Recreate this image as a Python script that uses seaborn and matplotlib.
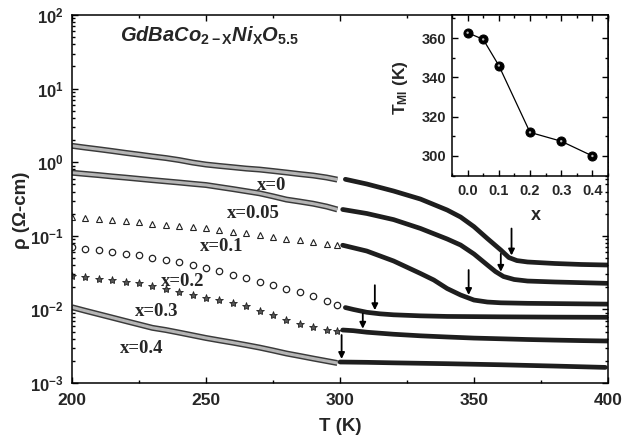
import numpy as np
import pandas as pd
import matplotlib
matplotlib.use("Agg")
import matplotlib.pyplot as plt
import seaborn as sns
from matplotlib.ticker import FixedLocator, MultipleLocator, LogLocator, NullFormatter, FixedFormatter

# ---------------- data ----------------
T_low = [200, 205, 210, 215, 220, 225, 230, 235, 240, 245, 250,
         255, 260, 265, 270, 275, 280, 285, 290, 295, 299]

rho_low_00 = [1.67, 1.58, 1.50, 1.42, 1.34, 1.27, 1.20, 1.14, 1.07, 0.99, 0.93,
              0.89, 0.855, 0.82, 0.795, 0.76, 0.725, 0.69, 0.66, 0.62, 0.58]
rho_low_005 = [0.72, 0.693, 0.668, 0.641, 0.618, 0.594, 0.571, 0.550, 0.530, 0.509, 0.490,
               0.460, 0.432, 0.404, 0.378, 0.344, 0.311, 0.292, 0.273, 0.250, 0.228]
rho_low_01 = [0.182, 0.176, 0.169, 0.163, 0.158, 0.152, 0.147, 0.142, 0.137, 0.132, 0.128,
              0.121, 0.114, 0.108, 0.1025, 0.0972, 0.0919, 0.0871, 0.0824, 0.0782, 0.0750]
rho_low_02 = [0.0698, 0.0666, 0.0635, 0.0604, 0.0575, 0.0543, 0.0507, 0.0469, 0.0434, 0.0401, 0.0369,
              0.0330, 0.0293, 0.0265, 0.0239, 0.0215, 0.0192, 0.0171, 0.0150, 0.0130, 0.0115]
rho_low_03 = [0.0284, 0.0272, 0.0261, 0.0249, 0.0239, 0.0229, 0.0206, 0.0188, 0.0171, 0.0156, 0.0143,
              0.0134, 0.0124, 0.0111, 0.00966, 0.00839, 0.00718, 0.00634, 0.00568, 0.00533, 0.00516]
rho_low_04 = [0.0107, 0.00958, 0.00861, 0.00774, 0.00695, 0.00625, 0.00562, 0.00525, 0.00484, 0.00445, 0.00409,
              0.00380, 0.00354, 0.00328, 0.00303, 0.00277, 0.00252, 0.00233, 0.00215, 0.00199, 0.00187]

T_high_00 = [302, 310, 320, 330, 340, 345, 350, 355, 360, 363, 366, 370, 380, 390, 400]
rho_high_00 = [0.586, 0.506, 0.406, 0.316, 0.224, 0.180, 0.133, 0.0918, 0.0641, 0.0507,
               0.0461, 0.0441, 0.0421, 0.0408, 0.0401]
T_high_005 = [301, 310, 320, 330, 340, 345, 350, 355, 358, 361, 365, 370, 380, 390, 400]
rho_high_005 = [0.228, 0.201, 0.166, 0.126, 0.0905, 0.075, 0.0566, 0.0401, 0.0327, 0.0280,
                0.0255, 0.0243, 0.0236, 0.0231, 0.0226]
T_high_01 = [301, 310, 320, 330, 335, 340, 345, 350, 355, 360, 370, 380, 390, 400]
rho_high_01 = [0.0745, 0.0621, 0.0455, 0.0308, 0.0251, 0.0192, 0.0157, 0.0134, 0.0126,
               0.0123, 0.0121, 0.0120, 0.0119, 0.0118]
T_high_02 = [302, 305, 310, 315, 320, 330, 340, 360, 380, 400]
rho_high_02 = [0.0106, 0.00998, 0.00914, 0.00871, 0.00845, 0.00818, 0.00803, 0.00793, 0.00786, 0.00781]
T_high_03 = [301, 305, 310, 320, 330, 340, 350, 360, 370, 380, 390, 400]
rho_high_03 = [0.00525, 0.00514, 0.00490, 0.00460, 0.00438, 0.00422, 0.00408, 0.00399,
               0.00390, 0.00383, 0.00377, 0.00372]
T_high_04 = [300, 310, 320, 340, 360, 380, 399]
rho_high_04 = [0.00193, 0.00191, 0.00188, 0.00183, 0.00177, 0.00170, 0.00163]

labels = ["x=0", "x=0.05", "x=0.1", "x=0.2", "x=0.3", "x=0.4"]
label_T = [274.6, 267.5, 256.0, 241.4, 231.7, 226.1]
label_rho = [0.49, 0.204, 0.0726, 0.0243, 0.00923, 0.00299]

arrow_T = [364, 360, 348, 313, 308.5, 300.6]
arrow_len_px = [27, 18, 25, 25, 15, 24]

x_comp = [0.0, 0.05, 0.1, 0.2, 0.3, 0.4]
T_MI = [362.7, 359.3, 346.0, 312.0, 307.5, 300.0]

# ---------------- style ----------------
sns.set_style("ticks")
plt.rcParams["font.family"] = ["Liberation Sans", "DejaVu Sans"]
plt.rcParams["font.weight"] = "bold"
plt.rcParams["mathtext.fontset"] = "custom"
plt.rcParams["mathtext.rm"] = "Liberation Sans:bold"
plt.rcParams["mathtext.bf"] = "Liberation Sans:bold"
plt.rcParams["mathtext.it"] = "Liberation Sans:bold:italic"

fig = plt.figure(figsize=(6.44, 4.43), dpi=100)
ax = fig.add_axes([0.1118, 0.1354, 0.8323, 0.8307])

DARK = "#1e1e1e"

low_sets = [rho_low_00, rho_low_005, rho_low_01, rho_low_02, rho_low_03, rho_low_04]
high_sets = [(T_high_00, rho_high_00), (T_high_005, rho_high_005), (T_high_01, rho_high_01),
             (T_high_02, rho_high_02), (T_high_03, rho_high_03), (T_high_04, rho_high_04)]

# low-T parts
for i, rho in enumerate(low_sets):
    df = pd.DataFrame({"T": T_low, "rho": rho})
    if i in (0, 1, 5):
        sns.lineplot(data=df, x="T", y="rho", ax=ax, estimator=None, sort=True,
                     color="#3a3a3a", lw=4.3, solid_capstyle="butt")
        sns.lineplot(data=df, x="T", y="rho", ax=ax, estimator=None, sort=True,
                     color="#b5b5b5", lw=2.2, solid_capstyle="butt")
    elif i == 2:
        sns.lineplot(data=df, x="T", y="rho", ax=ax, estimator=None, linestyle="",
                     marker="^", markersize=4.6, markerfacecolor="white",
                     markeredgecolor="#222222", markeredgewidth=0.8)
    elif i == 3:
        sns.lineplot(data=df, x="T", y="rho", ax=ax, estimator=None, linestyle="",
                     marker="o", markersize=4.6, markerfacecolor="white",
                     markeredgecolor="#222222", markeredgewidth=0.9)
    else:
        sns.lineplot(data=df, x="T", y="rho", ax=ax, estimator=None, linestyle="",
                     marker="*", markersize=6, markerfacecolor="#555555",
                     markeredgecolor="#222222", markeredgewidth=0.6)

# high-T parts
for Th, rh in high_sets:
    df = pd.DataFrame({"T": Th, "rho": rh})
    sns.lineplot(data=df, x="T", y="rho", ax=ax, estimator=None, color=DARK, lw=3.4,
                 solid_capstyle="round", solid_joinstyle="round")

ax.set_yscale("log")
ax.set_xlim(200, 400)
ax.set_ylim(1e-3, 1e2)

ax.xaxis.set_major_locator(MultipleLocator(50))
ax.xaxis.set_minor_locator(MultipleLocator(25))
ax.yaxis.set_major_locator(FixedLocator([1e-3, 1e-2, 1e-1, 1e0, 1e1, 1e2]))
ax.yaxis.set_major_formatter(FixedFormatter([r"$10^{-3}$", r"$10^{-2}$", r"$10^{-1}$",
                                             r"$10^{0}$", r"$10^{1}$", r"$10^{2}$"]))
ax.yaxis.set_minor_locator(LogLocator(base=10, subs=np.arange(2, 10), numticks=20))
ax.yaxis.set_minor_formatter(NullFormatter())
ax.tick_params(which="both", direction="in", top=True, right=True, width=1.0, color="black")
ax.tick_params(which="major", length=4.5)
ax.tick_params(which="minor", length=2.3)
ax.tick_params(axis="x", which="major", labelsize=12.5, pad=7)
ax.tick_params(axis="y", which="major", labelsize=12, pad=6)
for lab in ax.get_xticklabels():
    lab.set_fontweight("bold")
for sp in ax.spines.values():
    sp.set_linewidth(1.1)
    sp.set_color("black")

ax.set_xlabel("T (K)", fontsize=13.5, fontweight="bold")
ax.set_ylabel("\u03c1 (\u03a9-cm)", fontsize=13.5, fontweight="bold")
ax.xaxis.set_label_coords(0.5, -0.095)
ax.yaxis.set_label_coords(-0.078, 0.47)

# curve labels
for lab, tx, ty in zip(labels, label_T, label_rho):
    ax.text(tx, ty, lab, ha="center", va="center", fontsize=13.5, fontweight="bold",
            family=["Liberation Serif", "DejaVu Serif"])

# arrows marking T_MI
for (Th, rh), ta, L in zip(high_sets, arrow_T, arrow_len_px):
    ytip = 10 ** np.interp(ta, Th, np.log10(rh))
    ax.annotate("", xy=(ta, ytip), xycoords="data",
                xytext=(0, (L + 3) * 0.72), textcoords="offset points",
                arrowprops=dict(arrowstyle="-|>", color="black", lw=1.3,
                                mutation_scale=9, shrinkA=0, shrinkB=2.2))

# title formula
ax.text(0.0896, 0.927, r"GdBaCo$_{\mathrm{2-X}}$Ni$_{\mathrm{X}}$O$_{\mathrm{5.5}}$",
        transform=ax.transAxes, ha="left", va="baseline", fontsize=14.5,
        fontweight="bold", fontstyle="italic")

# ---------------- inset ----------------
axin = fig.add_axes([0.7019, 0.6027, 0.2422, 0.3634])
axin.set_facecolor("white")
dfi = pd.DataFrame({"x": x_comp, "T": T_MI})
sns.lineplot(data=dfi, x="x", y="T", ax=axin, estimator=None, color="black", lw=0.9,
             marker="o", markersize=6.5, markerfacecolor="black", markeredgecolor="black")
# small highlights for the sphere look
sns.scatterplot(data=dfi, x="x", y="T", ax=axin, s=3, color="#bbbbbb", edgecolor="none",
                zorder=5)
axin.set_xlim(-0.05, 0.45)
axin.set_ylim(289.8, 371.7)
axin.xaxis.set_major_locator(MultipleLocator(0.1))
axin.xaxis.set_minor_locator(MultipleLocator(0.05))
axin.yaxis.set_major_locator(MultipleLocator(20))
axin.yaxis.set_minor_locator(MultipleLocator(10))
axin.tick_params(which="both", direction="in", top=True, right=True, color="black", width=1.0)
axin.tick_params(which="major", length=4.5, labelsize=10.5)
axin.tick_params(which="minor", length=2.5)
axin.tick_params(axis="x", pad=6)
axin.tick_params(axis="y", pad=4)
axin.set_xticklabels([f"{v:.1f}" for v in axin.get_xticks()], fontweight="bold")
for lab in axin.get_yticklabels():
    lab.set_fontweight("bold")
for sp in axin.spines.values():
    sp.set_linewidth(1.1)
    sp.set_color("black")
axin.set_xlabel("x", fontsize=13, fontweight="bold")
axin.set_ylabel(r"T$_{\mathrm{MI}}$ (K)", fontsize=12.5, fontweight="bold")
axin.xaxis.set_label_coords(0.54, -0.19)
axin.yaxis.set_label_coords(-0.27, 0.55)

fig.savefig("out.png", dpi=100)
